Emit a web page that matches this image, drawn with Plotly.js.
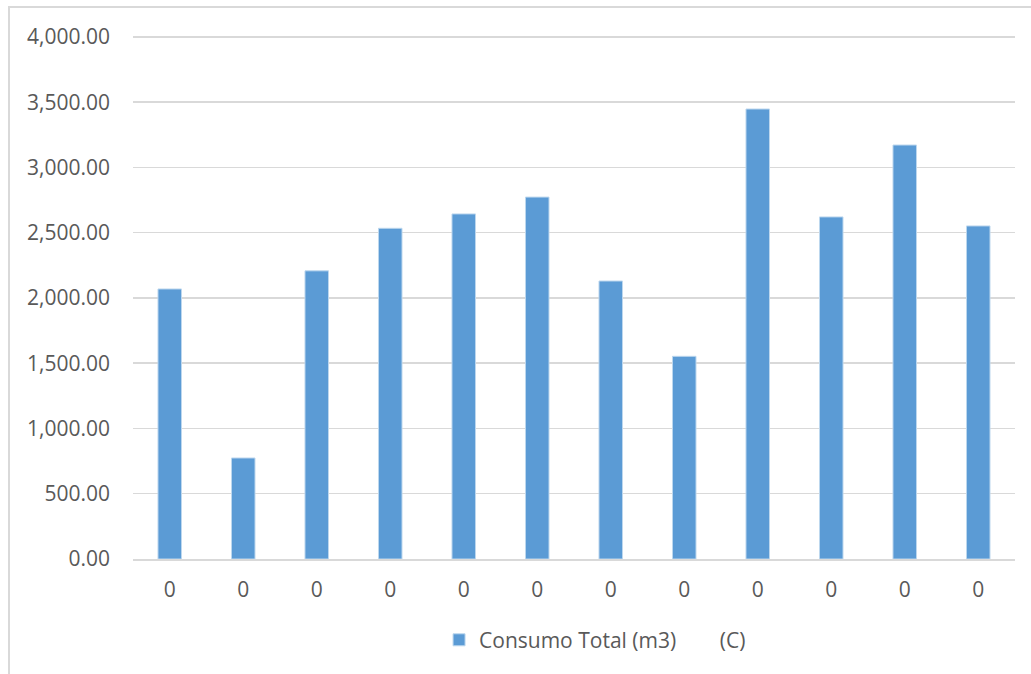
<!DOCTYPE html>
<html>
<head>
<meta charset="utf-8">
<script src="https://cdn.plot.ly/plotly-3.0.1.min.js"></script>
<style>
  html, body { margin: 0; padding: 0; background: #ffffff; overflow: hidden; }
  #chart { width: 1031px; height: 674px; position: relative; }
  #frame { position: absolute; left: 8px; top: 6px; width: 1100px; height: 760px;
           border: 2px solid #D9D9D9; pointer-events: none; box-sizing: border-box; }
</style>
</head>
<body>
<div id="chart"></div>
<div id="frame"></div>
<script>
const categories = ["0","0","0","0","0","0","0","0","0","0","0","0"];
const consumoTotal = [2069, 774, 2208, 2534, 2644, 2773, 2130, 1553, 3448, 2621, 3172, 2552];
const seriesName = "Consumo Total (m3)\u00a0\u00a0\u00a0\u00a0\u00a0\u00a0\u00a0\u00a0(C)";
const yTicks = [0, 500, 1000, 1500, 2000, 2500, 3000, 3500, 4000];

const xIdx = categories.map((c, i) => i);

const trace = {
  type: "bar",
  x: xIdx,
  y: consumoTotal,
  name: seriesName,
  marker: { color: "#5B9BD5", line: { color: "#BDD7EE", width: 1 } },
  showlegend: true,
  hoverinfo: "y"
};

const font = { family: "Open Sans, Noto Sans, sans-serif", size: 21, color: "#595959" };

const layout = {
  width: 1031, height: 674,
  margin: { l: 133, r: 16, t: 32, b: 115, pad: 0 },
  paper_bgcolor: "#ffffff",
  plot_bgcolor: "#ffffff",
  font: font,
  bargap: 0.68,
  showlegend: true,
  xaxis: {
    tickmode: "array",
    tickvals: xIdx,
    ticktext: categories,
    range: [-0.5, categories.length - 0.5],
    showgrid: false,
    zeroline: false,
    showline: true,
    linecolor: "#D9D9D9",
    linewidth: 2,
    ticks: "",
    ticklabelstandoff: 11,
    tickfont: font,
    fixedrange: true
  },
  yaxis: {
    range: [0, 4038],
    tickmode: "array",
    tickvals: yTicks,
    tickformat: ",.2f",
    showgrid: true,
    gridcolor: "#D9D9D9",
    gridwidth: 1.5,
    zeroline: false,
    showline: false,
    ticks: "",
    ticklabelstandoff: 22,
    tickfont: font,
    fixedrange: true
  },
  legend: {
    orientation: "h",
    x: 0.347, xanchor: "left",
    y: -0.154, yanchor: "middle",
    font: font,
    bgcolor: "rgba(0,0,0,0)"
  }
};

Plotly.newPlot("chart", [trace], layout, { displayModeBar: false, staticPlot: true });
</script>
</body>
</html>
